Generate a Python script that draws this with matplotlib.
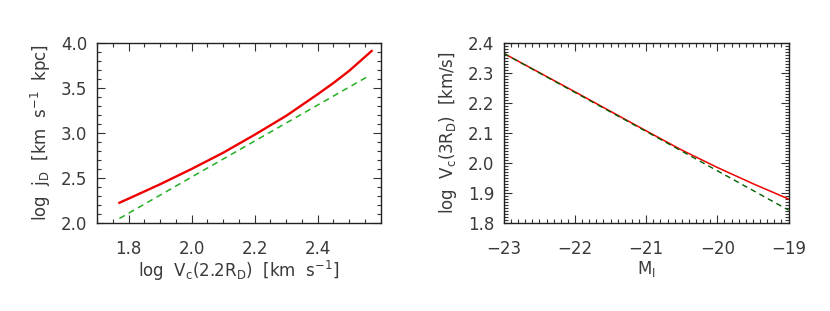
import matplotlib
matplotlib.use('Agg')
import matplotlib.pyplot as plt
from matplotlib.ticker import MultipleLocator

plt.rcParams['font.family'] = ['DejaVu Sans']
plt.rcParams['mathtext.fontset'] = 'dejavusans'

# panel izquierdo: j_D vs V_c(2.2 R_D)
vc_left = [1.771, 1.8, 1.9, 2.0, 2.1, 2.2, 2.3, 2.4, 2.45, 2.5, 2.55, 2.571]
jd_red = [2.225, 2.27, 2.43, 2.60, 2.78, 2.98, 3.19, 3.43, 3.555, 3.69, 3.845, 3.91]
vc_green = [1.771, 2.0, 2.2, 2.4, 2.558]
jd_green = [2.05, 2.51, 2.91, 3.31, 3.625]

# panel derecho: V_c(3 R_D) vs M_I
mi = [-23.0, -22.5, -22.0, -21.5, -21.0, -20.5, -20.0, -19.5, -19.0]
vc_red = [2.365, 2.301, 2.237, 2.172, 2.107, 2.043, 1.985, 1.931, 1.880]
mi_green = [-23.0, -21.0, -19.0]
vc_green_r = [2.365, 2.105, 1.843]

txt = '#3a3a3a'

fig = plt.figure(figsize=(8.3, 3.11), dpi=100)
ax1 = fig.add_axes([0.1169, 0.283, 0.3418, 0.579])
ax2 = fig.add_axes([0.607, 0.283, 0.343, 0.579])

ax1.plot(vc_left, jd_red, color='#ee0000', lw=1.7)
ax1.plot(vc_green, jd_green, color='#22b022', lw=1.1, ls=(0, (4, 3)))
ax1.set_xlim(1.7, 2.6)
ax1.set_ylim(2.0, 4.0)
ax1.xaxis.set_major_locator(MultipleLocator(0.2))
ax1.xaxis.set_minor_locator(MultipleLocator(0.05))
ax1.yaxis.set_major_locator(MultipleLocator(0.5))
ax1.yaxis.set_minor_locator(MultipleLocator(0.1))
ax1.set_xticks([1.8, 2.0, 2.2, 2.4])
ax1.set_xlabel(r'log  V$_\mathrm{c}$(2.2R$_\mathrm{D}$)  [km  s$^{-1}$]', fontsize=12, color=txt, labelpad=1)
ax1.set_ylabel(r'log  j$_\mathrm{D}$  [km  s$^{-1}$  kpc]', fontsize=12, color=txt, labelpad=6)

ax2.plot(mi, vc_red, color='#ee0000', lw=1.1)
ax2.plot(mi_green, vc_green_r, color='#006000', lw=1.0, ls=(0, (4, 3)))
ax2.set_xlim(-23, -19)
ax2.set_ylim(1.8, 2.4)
ax2.xaxis.set_major_locator(MultipleLocator(1))
ax2.xaxis.set_minor_locator(MultipleLocator(0.1))
ax2.yaxis.set_major_locator(MultipleLocator(0.1))
ax2.yaxis.set_minor_locator(MultipleLocator(0.01))
ax2.set_xticks([-23, -22, -21, -20, -19])
ax2.set_xticklabels(['\u221223', '\u221222', '\u221221', '\u221220', '\u221219'])
ax2.set_xlabel(r'M$_\mathrm{I}$', fontsize=12, color=txt, labelpad=1)
ax2.set_ylabel(r'log  V$_\mathrm{c}$(3R$_\mathrm{D}$)  [km/s]', fontsize=12, color=txt, labelpad=6)

for ax in (ax1, ax2):
    ax.tick_params(which='both', direction='in', top=True, right=True,
                   labelsize=12, labelcolor=txt, color='#333333', width=0.8)
    ax.tick_params(which='major', length=6)
    ax.tick_params(axis='x', which='major', pad=12)
    ax.tick_params(axis='y', which='major', pad=7)
    ax.tick_params(which='minor', length=3)
    for s in ax.spines.values():
        s.set_color('#222222')
        s.set_linewidth(1.0)

fig.savefig('out.png', dpi=100)
